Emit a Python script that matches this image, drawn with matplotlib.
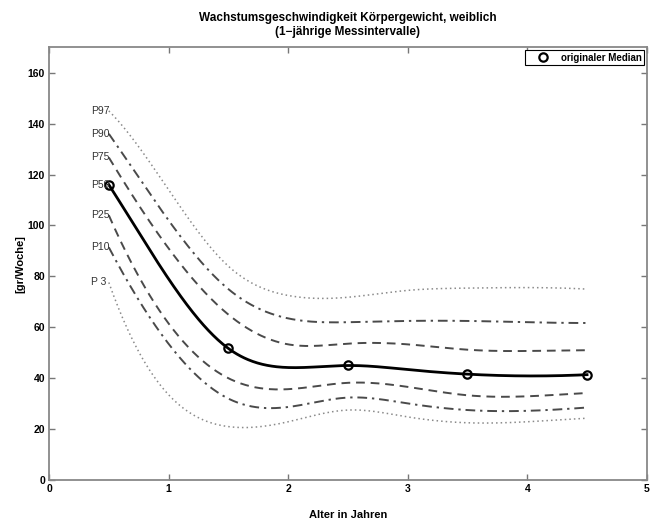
import numpy as np
import matplotlib.pyplot as plt

plt.rcParams['font.family'] = ['Liberation Sans', 'DejaVu Sans']

# Alter (Jahre) der Messintervall-Mitten und originaler Median [gr/Woche]
alter_median = [0.5, 1.5, 2.5, 3.5, 4.5]
median_orig = [116.0, 51.7, 45.0, 41.6, 41.4]

# Stuetzstellen der geglaetteten Perzentilkurven
alter = [0.5, 1.0, 1.5, 2.0, 2.5, 3.0, 3.5, 4.0, 4.5]
p97 = [145.0, 114.0, 84.0, 72.5, 71.8, 74.5, 75.4, 75.6, 75.0]
p90 = [136.0, 102.0, 75.0, 63.5, 62.0, 62.5, 62.5, 62.0, 61.7]
p75 = [126.7, 91.0, 65.0, 53.3, 53.6, 53.3, 51.2, 50.7, 51.0]
p50 = [116.0, 79.0, 51.7, 44.2, 45.0, 43.4, 41.6, 40.9, 41.4]
p25 = [104.0, 61.5, 40.0, 35.7, 38.2, 36.6, 33.3, 32.9, 34.2]
p10 = [91.4, 53.5, 32.0, 28.7, 32.4, 30.1, 27.5, 27.2, 28.5]
p03 = [77.6, 33.5, 21.0, 22.9, 27.5, 24.8, 22.5, 22.9, 24.3]

namen = ['P97', 'P90', 'P75', 'P50', 'P25', 'P10', 'P 3']


def spline(x, y, xs):
    # kubischer Spline mit not-a-knot Randbedingung (wie MATLAB spline)
    x = np.asarray(x, float)
    y = np.asarray(y, float)
    n = len(x)
    h = np.diff(x)
    A = np.zeros((n, n))
    b = np.zeros(n)
    for i in range(1, n - 1):
        A[i, i - 1] = h[i - 1]
        A[i, i] = 2 * (h[i - 1] + h[i])
        A[i, i + 1] = h[i]
        b[i] = 6 * ((y[i + 1] - y[i]) / h[i] - (y[i] - y[i - 1]) / h[i - 1])
    A[0, 0], A[0, 1], A[0, 2] = h[1], -(h[0] + h[1]), h[0]
    A[-1, -3], A[-1, -2], A[-1, -1] = h[-1], -(h[-2] + h[-1]), h[-2]
    M = np.linalg.solve(A, b)
    idx = np.clip(np.searchsorted(x, xs) - 1, 0, n - 2)
    x0, x1 = x[idx], x[idx + 1]
    hh = x1 - x0
    return (M[idx] * (x1 - xs) ** 3 / (6 * hh) + M[idx + 1] * (xs - x0) ** 3 / (6 * hh)
            + (y[idx] / hh - M[idx] * hh / 6) * (x1 - xs)
            + (y[idx + 1] / hh - M[idx + 1] * hh / 6) * (xs - x0))


fig = plt.figure(figsize=(6.54, 5.19), dpi=100)
ax = fig.add_axes([0.075, 0.075, 0.914, 0.834])

xs = np.linspace(alter[0], alter[-1], 400)
dunkel = '#4a4a4a'
hell = '#8a8a8a'
stile = [
    (p97, dict(color=hell, ls=(0, (1, 2)), lw=1.1)),
    (p90, dict(color=dunkel, ls=(0, (5, 2.5, 1.2, 2.5)), lw=1.4)),
    (p75, dict(color=dunkel, ls=(0, (4.5, 3)), lw=1.4)),
    (p50, dict(color='black', ls='-', lw=2.0)),
    (p25, dict(color=dunkel, ls=(0, (4.5, 3)), lw=1.4)),
    (p10, dict(color=dunkel, ls=(0, (5, 2.5, 1.2, 2.5)), lw=1.4)),
    (p03, dict(color=hell, ls=(0, (1, 2)), lw=1.1)),
]
for (werte, st), name in zip(stile, namen):
    ax.plot(xs, spline(alter, werte, xs), **st)
    ax.text(alter[0] - 0.15, werte[0], name, fontsize=7.5, color='#333333',
            ha='left', va='center')

ax.plot(alter_median, median_orig, 'o', ls='none', ms=6, mfc='none', mec='black',
        mew=1.6, label='originaler Median')

ax.set_xlim(0, 5)
ax.set_ylim(0, 170)
ax.set_xticks([0, 1, 2, 3, 4, 5])
ax.set_yticks(range(0, 161, 20))
ax.tick_params(direction='in', length=4, width=1, color='#777777', labelsize=7.5,
               top=True, right=True, pad=3)
for lab in ax.get_xticklabels() + ax.get_yticklabels():
    lab.set_fontweight('bold')
for sp in ax.spines.values():
    sp.set_color('#888888')
    sp.set_linewidth(1.3)

ax.set_xlabel('Alter in Jahren', fontsize=8, fontweight='bold')
ax.xaxis.set_label_coords(0.5, -0.068)
ax.set_ylabel('[gr/Woche]', fontsize=8, fontweight='bold', va='center')
ax.yaxis.set_label_coords(-0.0485, 0.5)
ax.set_title('Wachstumsgeschwindigkeit Körpergewicht, weiblich\n(1\u2212jährige Messintervalle)',
             fontsize=8.5, fontweight='bold', pad=9)

leg = ax.legend(loc='upper right', prop={'weight': 'bold', 'size': 7},
                fancybox=False, edgecolor='black', framealpha=1, borderpad=0.25,
                handlelength=3.2, handletextpad=0.25, borderaxespad=0.3)
leg.get_frame().set_linewidth(0.8)

fig.savefig('out.png', dpi=100)
